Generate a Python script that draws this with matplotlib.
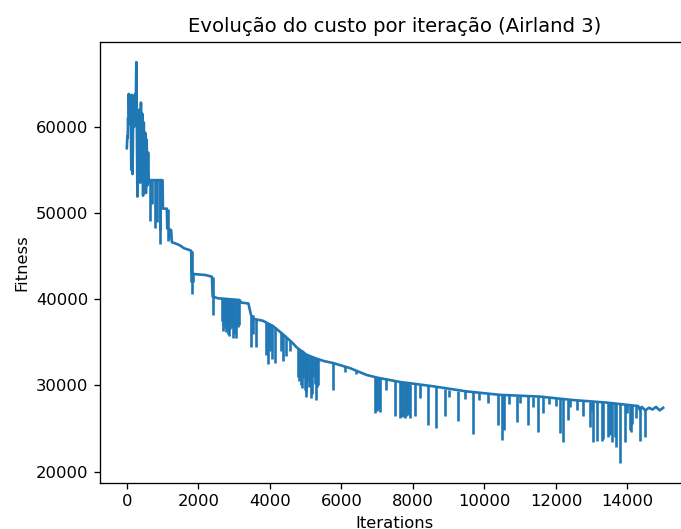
import matplotlib
matplotlib.use("Agg")
import matplotlib.pyplot as plt

# baseline of the cost trace (iteration, fitness)
base_iter = [0, 15, 25, 35, 45, 55, 70, 90, 110, 125, 140, 160, 185, 205, 230, 250, 265, 280,
             295, 315, 335, 355, 375, 395, 415, 435, 455, 475, 495, 515, 535, 555, 575, 595,
             615, 635, 1000, 1010, 1120, 1130, 1240, 1260, 1400, 1500, 1600, 1750, 1800, 1810,
             1900, 2200, 2380, 2400, 2550, 3150, 3200, 3400, 3470, 3550, 3800, 4080, 4200,
             4400, 4640, 4750, 5000, 5300, 5530, 5760, 6240, 6710, 7000, 7630, 8550, 9500,
             10430, 11540, 12470, 13420, 14300, 14350, 14400, 14500, 14600, 14700, 14800,
             14900, 14999]
base_fit = [57500, 58900, 58700, 61000, 60300, 63800, 60800, 63600, 61500, 55000, 63700, 54500,
            63500, 60000, 63800, 62000, 67500, 60500, 51900, 60200, 56000, 62000, 53500, 62800,
            55000, 61500, 52000, 60500, 53500, 59300, 52300, 58500, 53200, 57000, 53500, 53800,
            53800, 50500, 50500, 48200, 48000, 46600, 46400, 46200, 45900, 45700, 45600, 43000,
            42900, 42800, 42600, 40300, 40100, 39900, 39600, 39500, 38200, 37700, 37500, 36900,
            36500, 35800, 34900, 34400, 33600, 33100, 32800, 32600, 32000, 31200, 30900, 30400,
            29900, 29300, 28900, 28700, 28300, 28000, 27600, 27100, 27500, 27100, 27400, 27200,
            27500, 27100, 27400]

# downward excursions: iteration, level before the drop, lowest value
spike_iter = [655, 700, 775, 850, 915, 935, 1150, 1180,
              1800, 1830, 1860, 2400,
              2650, 2680, 2700, 2720, 2740, 2760, 2780, 2800, 2820, 2840, 2860, 2880, 2900,
              2940, 2980, 3020, 3060, 3100, 3150,
              3480, 3520, 3620, 3900, 3950, 4000, 4050, 4130,
              4300, 4360, 4450, 4550, 4800, 4820, 4850, 4880, 4900, 4920, 4950, 4980, 5000,
              5020, 5050, 5100, 5150, 5180, 5200, 5250, 5300, 5330, 5350,
              5760, 6100, 6400,
              6930, 6970, 7000, 7040, 7070, 7250, 7490, 7630, 7660, 7700, 7730, 7770, 7800,
              7840, 7870, 7910, 8050, 8200,
              8410, 8660, 8890, 9000, 9250, 9450, 9680, 9850, 10100, 10380, 10480, 10560, 10700,
              10900, 11000, 11210, 11350, 11490, 11630, 11800, 12000, 12100, 12190, 12330, 12380,
              12600, 12750, 12940, 13000, 13050, 13140, 13280, 13310, 13450, 13510, 13560, 13640,
              13670, 13780, 13920, 14000, 14060, 14110, 14140, 14250, 14340, 14480]
spike_top = [53800, 53800, 53800, 53800, 53800, 53800, 50500, 48200,
             45600, 45600, 43000, 42600,
             40100, 40100, 40100, 40100, 40100, 40100, 40100, 40100, 40100, 40100, 40100, 40050,
             40000, 40000, 40000, 39950, 39900, 39900, 39900,
             38200, 38200, 37700, 37300, 37200, 37100, 37000, 36800,
             36200, 36000, 35600, 35200, 34300, 34250, 34200, 34150, 34100, 34000, 33900, 33700,
             33600, 33600, 33500, 33450, 33400, 33350, 33300, 33200, 33100, 33050, 33000,
             32600, 32200, 31800,
             31000, 31000, 30900, 30900, 30900, 30700, 30500, 30400, 30400, 30400, 30350, 30300,
             30300, 30300, 30250, 30200, 30100, 30000,
             29900, 29800, 29600, 29500, 29400, 29300, 29200, 29100, 29000, 28900, 28900, 28900,
             28850, 28800, 28800, 28750, 28700, 28700, 28650, 28600, 28500, 28450, 28400, 28350,
             28350, 28300, 28200, 28100, 28100, 28080, 28050, 28020, 28000, 27980, 27950, 27940,
             27900, 27900, 27850, 27800, 27750, 27720, 27700, 27700, 27650, 27600, 27300]
spike_low = [49100, 51000, 48200, 49000, 48000, 46400, 46800, 47000,
             42000, 40600, 42000, 38200,
             37500, 37000, 36300, 36600, 37000, 36200, 37100, 37200, 36800, 36000, 35700, 36500,
             37000, 36800, 35500, 36000, 35500, 36800, 37000,
             34500, 36000, 34500, 33500, 32500, 34000, 33000, 32600,
             34000, 32800, 33400, 34000, 31000, 30500, 32000, 30000, 29700, 30800, 31500, 29500,
             28700, 29200, 30500, 29800, 28500, 29000, 31000, 30200, 28300, 29800, 30000,
             29500, 31600, 31300,
             26800, 27200, 27000, 27300, 26900, 29500, 26500, 26200, 26400, 26500, 26300, 26200,
             26500, 26800, 26600, 26200, 26400, 28500,
             25400, 25000, 26400, 28600, 25900, 28400, 24400, 28300, 28000, 25400, 23700, 24800,
             27800, 25700, 28000, 25400, 27500, 24600, 26800, 27800, 27600, 24500, 23400, 26000,
             27500, 27200, 26500, 25200, 27000, 23400, 23600, 23600, 23800, 24000, 24200, 23400,
             24000, 22900, 21000, 23400, 26800, 24800, 24600, 25500, 26200, 23600, 24000]

color = "#1f77b4"

dpi = 118
fig = plt.figure(figsize=(681 / dpi, 529 / dpi), dpi=dpi)
ax = fig.add_axes([100 / 681, 46 / 529, 590 / 681, 441 / 529])

ax.plot(base_iter, base_fit, color=color, lw=1.6)
ax.vlines(spike_iter, spike_low, spike_top, color=color, lw=1.6)
ax.spines["right"].set_visible(False)

ax.set_title("Evolução do custo por iteração (Airland 3)")
ax.set_xlabel("Iterations")
ax.set_ylabel("Fitness")

fig.savefig("out.png", dpi=dpi)
